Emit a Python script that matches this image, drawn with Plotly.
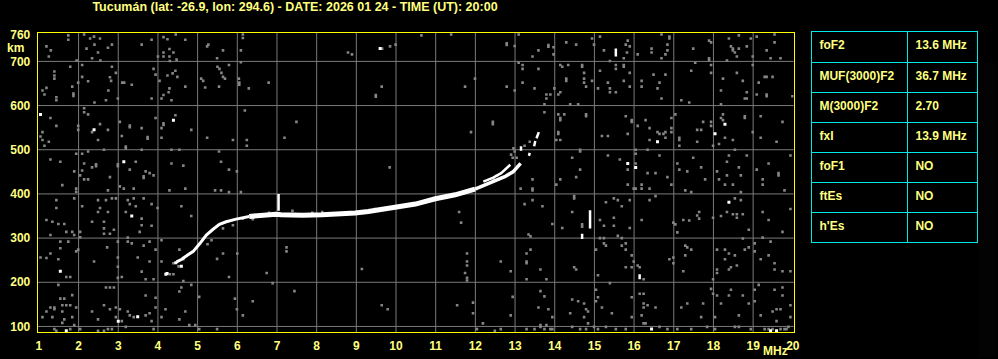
import plotly.graph_objects as go

TITLE = "Tucumán (lat: -26.9, lon: 294.6) - DATE: 2026 01 24 - TIME (UT): 20:00"

# axis ticks
x_ticks = list(range(1, 21))
y_ticks = [100, 200, 300, 400, 500, 600, 700, 760]
x_grid = list(range(2, 20))
y_grid = [100, 200, 300, 400, 500, 600, 700]

# parameter table
param_names = ["foF2", "MUF(3000)F2", "M(3000)F2", "fxI", "foF1", "ftEs", "h'Es"]
param_values = ["13.6\u00a0MHz", "36.7\u00a0MHz", "2.70", "13.9\u00a0MHz", "NO", "NO", "NO"]

# main echo trace (MHz, km)
rise_f = [4.47, 4.60, 4.74, 4.89, 5.05, 5.22, 5.39, 5.55, 5.72, 5.97, 6.30]
rise_h = [246, 252, 261, 270, 287, 307, 320, 331, 337, 343, 349]
flat_f = [6.30, 6.72, 6.97, 7.10, 7.30, 7.64, 8.14, 8.64, 8.97, 9.30, 9.64, 9.97,
          10.30, 10.49, 10.99, 11.49, 11.99]
flat_h = [349, 353, 354, 353, 352, 352, 353, 354, 357, 360, 365, 369,
          374, 377, 389, 398, 411]
top_f = [11.99, 12.49, 12.74, 12.95, 13.07, 13.14]
top_h = [411, 429, 439, 450, 461, 469]
branch_f = [12.20, 12.45, 12.65, 12.80, 12.88]
branch_h = [428, 437, 447, 458, 466]
# short vertical white pieces (None separates pieces)
piece_f = [7.04, 7.04, None, 13.15, 13.15, None, 13.35, 13.37, None, 13.48, 13.51, None,
           13.54, 13.60, None, 14.89, 14.89, None, 14.69, 14.69, None, 15.54, 15.54, None,
           16.14, 16.14]
piece_h = [362, 400, None, 498, 508, None, 486, 493, None, 508, 520, None,
           526, 540, None, 322, 363, None, 298, 310, None, 711, 729, None,
           207, 218]

# isolated white dots
white_dots = [(9.60, 729), (1.04, 580), (2.39, 545), (4.39, 567), (3.14, 473),
              (16.59, 518), (18.04, 536), (18.29, 558), (15.84, 469), (16.04, 460),
              (3.34, 350), (1.54, 225), (1.69, 90), (3.00, 112), (3.49, 122),
              (18.39, 381), (16.44, 94), (19.44, 90), (19.59, 90), (4.20, 218),
              (4.23, 220), (4.59, 236), (4.45, 244)]

# gray noise dots
gray_dots = [
    (1.74, 759), (1.74, 749), (2.14, 761), (2.29, 752), (2.39, 756), (2.54, 752), (2.40, 738),
    (2.20, 729), (2.74, 731), (2.84, 738), (2.49, 720), (2.34, 707), (2.55, 702), (1.19, 734),
    (1.30, 725), (1.25, 711), (1.95, 702), (3.59, 738), (3.84, 749), (4.14, 755), (4.24, 750),
    (4.45, 761), (4.69, 749), (4.29, 728), (4.14, 720), (4.39, 720), (4.14, 711), (4.29, 711),
    (4.30, 701), (4.00, 711), (4.47, 704), (5.27, 738), (5.24, 734), (5.64, 725), (5.49, 707),
    (6.14, 761), (6.14, 753), (6.09, 725), (8.79, 720), (8.89, 716), (9.85, 734), (9.99, 738),
    (9.65, 729),
    (1.79, 688), (2.09, 692), (1.39, 677), (1.39, 668), (1.39, 661), (2.09, 665), (2.24, 655),
    (2.84, 688), (2.94, 674), (2.79, 664), (2.82, 656), (1.99, 652), (1.84, 643), (1.19, 640),
    (1.09, 634), (1.14, 625), (1.44, 619), (1.44, 612), (1.87, 627), (1.87, 622), (2.75, 634),
    (2.69, 612), (2.99, 616), (2.40, 607), (3.10, 652), (3.15, 652), (3.34, 647), (3.89, 683),
    (3.94, 670), (4.04, 656), (4.24, 668), (4.37, 673), (4.44, 679), (4.49, 665), (4.29, 639),
    (4.27, 630), (4.14, 624), (4.09, 616), (4.34, 612), (4.69, 643), (3.84, 616), (5.09, 661),
    (5.14, 656), (5.19, 641), (5.50, 688), (5.55, 683), (5.60, 674), (5.64, 665), (5.69, 661),
    (5.79, 692), (5.54, 643), (6.04, 661), (6.05, 647), (6.05, 652), (6.29, 639), (6.79, 652),
    (6.09, 698), (9.64, 643), (9.49, 624), (9.49, 620),
    (1.29, 572), (1.44, 554), (1.09, 540), (1.04, 530), (1.09, 522), (1.14, 509), (1.25, 518),
    (1.99, 554), (1.99, 545), (2.14, 594), (2.14, 585), (2.24, 580), (2.54, 558), (2.34, 540),
    (2.49, 522), (2.74, 545), (3.04, 563), (3.29, 551), (3.29, 555), (3.59, 549), (3.74, 529),
    (3.74, 525), (3.09, 531), (3.19, 507), (3.19, 503), (3.94, 572), (4.14, 560), (4.14, 556),
    (4.09, 549), (4.09, 527), (4.44, 578), (4.84, 545), (5.24, 527), (5.89, 522), (6.19, 589),
    (6.24, 522), (6.24, 509), (7.19, 527), (7.49, 563),
    (1.29, 478), (1.54, 473), (1.89, 451), (1.94, 491), (2.09, 491), (2.09, 453), (2.04, 442),
    (2.14, 433), (2.24, 433), (2.24, 496), (2.14, 469), (2.34, 460), (2.44, 467), (2.44, 463),
    (2.64, 500), (2.79, 438), (2.99, 467), (2.99, 463), (3.29, 455), (3.44, 473), (3.64, 440),
    (3.64, 436), (3.69, 451), (3.79, 447), (3.89, 442), (3.59, 500), (4.34, 500), (4.54, 500),
    (4.34, 469), (4.64, 464), (5.54, 496), (5.59, 473), (5.79, 455), (5.99, 451), (9.84, 460),
    (10.64, 759), (11.39, 761), (12.79, 741), (12.79, 737), (12.99, 735), (13.09, 761),
    (13.44, 711), (13.59, 725), (13.84, 737), (13.84, 733), (13.97, 732), (13.97, 716),
    (14.29, 743), (14.54, 738), (14.94, 752), (14.99, 738), (15.14, 756), (15.24, 725),
    (15.79, 738), (15.84, 747), (15.89, 734), (15.82, 720), (15.74, 707), (16.09, 716),
    (16.44, 729), (16.44, 720), (16.69, 707), (16.69, 761), (16.79, 716), (16.84, 738),
    (16.89, 756), (16.89, 752), (16.84, 725), (17.49, 729), (17.89, 747), (17.94, 743),
    (17.89, 707), (17.89, 703), (18.39, 752), (18.44, 734), (18.49, 725), (18.54, 720),
    (18.49, 729), (18.64, 729), (18.64, 759), (18.59, 711), (18.84, 734), (18.94, 752),
    (19.09, 756), (19.34, 725), (19.44, 707), (19.54, 761), (19.54, 743), (19.69, 707),
    (18.99, 711), (18.34, 702),
    (11.74, 643), (11.99, 661), (12.79, 643), (12.99, 634), (13.09, 697), (13.19, 692),
    (13.19, 683), (13.19, 652), (13.49, 639), (13.59, 683), (13.79, 625), (13.79, 616),
    (13.89, 625), (13.74, 603), (13.99, 639), (14.09, 625), (14.14, 630), (14.14, 692),
    (14.19, 688), (14.34, 692), (14.29, 661), (14.29, 656), (14.39, 603), (14.59, 603),
    (14.69, 692), (14.69, 688), (14.74, 674), (14.74, 661), (14.74, 652), (14.79, 643),
    (14.94, 656), (15.09, 639), (15.14, 679), (15.34, 652), (15.39, 701), (15.39, 639),
    (15.39, 630), (15.54, 692), (15.54, 683), (15.54, 630), (15.74, 692), (15.74, 688),
    (15.74, 656), (15.89, 674), (15.89, 643), (16.19, 656), (16.19, 643), (16.49, 670),
    (16.64, 652), (16.69, 616), (16.79, 670), (16.59, 639), (17.19, 612), (17.39, 607),
    (17.44, 679), (17.54, 697), (17.94, 692), (17.94, 674), (18.19, 634), (18.19, 603),
    (18.24, 661), (18.59, 674), (18.74, 656), (18.84, 630), (18.79, 616), (18.84, 616),
    (19.09, 625), (19.14, 652), (19.29, 665), (19.34, 665), (19.49, 665), (19.34, 625),
    (19.34, 621), (19.99, 621), (18.99, 692),
    (12.44, 563), (12.44, 558), (11.89, 540), (13.74, 585), (14.09, 580), (14.24, 580),
    (14.14, 572), (14.14, 567), (14.09, 540), (14.09, 536), (14.14, 522), (14.04, 522),
    (14.79, 580), (14.79, 576), (15.19, 531), (15.34, 531), (15.79, 576), (15.84, 536),
    (15.94, 567), (15.94, 563), (16.09, 554), (16.29, 567), (16.39, 549), (16.39, 522),
    (16.59, 540), (16.64, 536), (16.74, 536), (16.79, 540), (16.79, 527), (16.94, 572),
    (16.94, 549), (16.94, 540), (17.04, 580), (17.14, 527), (17.14, 522), (17.14, 509),
    (17.59, 545), (17.69, 545), (17.59, 518), (17.74, 563), (17.94, 563), (17.94, 554),
    (17.99, 509), (18.14, 513), (18.19, 572), (18.24, 567), (18.24, 580), (18.29, 527),
    (18.49, 522), (18.79, 576), (18.79, 572), (18.99, 540), (19.19, 576), (19.19, 527),
    (19.59, 518), (19.74, 563),
    (14.44, 482), (14.64, 500), (14.64, 496), (14.64, 455), (14.54, 438), (14.14, 433),
    (13.44, 433), (15.34, 487), (15.64, 478), (15.84, 455), (16.04, 500), (16.04, 491),
    (16.04, 469), (16.34, 500), (16.64, 487), (16.34, 447), (16.54, 447), (16.84, 438),
    (17.09, 469), (17.14, 455), (17.34, 451), (17.49, 482), (17.69, 460), (17.79, 433),
    (18.09, 451), (18.14, 433), (18.34, 473), (18.34, 442), (18.39, 487), (18.54, 500),
    (18.64, 460), (18.69, 442), (18.84, 487), (19.09, 455), (19.24, 433), (19.39, 469),
    (19.64, 447), (19.64, 442), (19.94, 487),
    (12.96, 503), (12.99, 496), (13.04, 482), (12.94, 482), (12.90, 489), (12.54, 441),
    (12.46, 433), (13.37, 518), (13.24, 509),
    (1.59, 420), (1.94, 412), (1.94, 405), (2.74, 408), (3.04, 417), (3.14, 412), (3.39, 412),
    (4.29, 408), (4.69, 412), (5.44, 408), (5.59, 408), (5.79, 404), (6.09, 404),
    (1.44, 386), (1.44, 368), (1.89, 390), (2.09, 372), (2.49, 386), (2.69, 386), (2.84, 390),
    (2.94, 390), (2.54, 368), (2.49, 359), (2.74, 359), (3.24, 386), (3.29, 377), (3.39, 390),
    (3.64, 390), (3.44, 372), (3.84, 377), (3.19, 359), (1.19, 341), (1.34, 337), (1.49, 332),
    (1.64, 332), (1.29, 307), (1.69, 314), (1.84, 314), (1.89, 307), (2.04, 314), (2.04, 302),
    (2.34, 337), (2.64, 337), (2.64, 322), (2.64, 310), (2.79, 310), (2.89, 319), (3.24, 301),
    (3.54, 314), (3.59, 329), (3.84, 328), (3.59, 344), (3.99, 368), (4.59, 372), (4.84, 350),
    (1.54, 292), (1.54, 277), (1.49, 252), (1.29, 265), (1.19, 255), (1.04, 256), (1.74, 292),
    (1.94, 270), (1.99, 274), (1.69, 212), (1.79, 212), (1.49, 194), (2.39, 247), (2.72, 279),
    (2.99, 292), (2.99, 256), (2.99, 235), (2.99, 210), (3.24, 292), (3.34, 288), (3.64, 283),
    (3.79, 292), (3.49, 256), (3.79, 247), (3.59, 224), (3.69, 207), (3.89, 207), (3.94, 274),
    (4.09, 247), (4.09, 295), (4.54, 274), (4.64, 255), (4.64, 203), (4.84, 194), (3.09, 212),
    (5.49, 253), (5.64, 265), (5.79, 212), (6.00, 265), (6.74, 221), (7.24, 279), (7.24, 270),
    (7.44, 180), (9.14, 230), (9.64, 148), (9.79, 139), (5.04, 167), (5.94, 163), (5.99, 139),
    (6.14, 125), (6.39, 157), (6.89, 198),
    (4.30, 218), (4.39, 218), (4.64, 252), (4.39, 243), (4.52, 236), (5.25, 286), (5.35, 295),
    (5.64, 322), (5.89, 329), (6.14, 344), (6.39, 343), (6.80, 357), (7.39, 362), (7.89, 357),
    (8.14, 359), (9.47, 366), (9.97, 372),
    (1.54, 163), (1.64, 163), (1.84, 171), (1.29, 143), (1.39, 143), (1.19, 134), (1.09, 121),
    (1.34, 121), (1.39, 139), (1.59, 148), (1.59, 134), (1.64, 116), (1.69, 148), (1.79, 148),
    (1.84, 121), (1.94, 143), (1.59, 108), (1.39, 94), (1.79, 94), (1.89, 103), (2.04, 94),
    (2.34, 134), (2.49, 116), (2.64, 148), (2.69, 188), (2.79, 188), (2.89, 188), (2.79, 139),
    (2.94, 143), (2.94, 121), (3.04, 139), (3.09, 112), (3.19, 99), (3.24, 134), (3.29, 125),
    (3.39, 121), (3.69, 125), (3.79, 130), (3.84, 112), (3.69, 170), (3.94, 165), (3.94, 143),
    (3.89, 94), (4.09, 121), (4.19, 139), (4.54, 116), (4.69, 134), (4.79, 103), (4.94, 103),
    (5.04, 94), (5.49, 94), (4.59, 188), (4.54, 179), (2.84, 94), (2.74, 94), (2.49, 90),
    (2.64, 90), (1.44, 90),
    (13.14, 412), (13.44, 412), (13.44, 408), (14.04, 421), (15.84, 421), (15.99, 412),
    (16.04, 412), (16.19, 421), (16.19, 412), (16.39, 412), (16.94, 421), (17.29, 408),
    (17.44, 404), (18.29, 421), (18.49, 421), (18.69, 404), (19.24, 421), (19.79, 408),
    (13.24, 377), (13.44, 386), (13.69, 372), (14.49, 395), (14.49, 390), (15.29, 381),
    (15.49, 390), (15.59, 386), (15.69, 372), (15.89, 386), (16.39, 386), (16.54, 395),
    (11.59, 359), (11.64, 335), (13.94, 332), (14.19, 323), (14.44, 359), (14.69, 331),
    (14.69, 326), (15.14, 341), (15.24, 328), (15.49, 346), (15.49, 328), (15.89, 323),
    (16.19, 341), (13.34, 308), (13.39, 304), (15.14, 300), (15.24, 300), (15.59, 305),
    (15.69, 300), (16.99, 335), (17.04, 331), (17.09, 313), (17.24, 341), (17.39, 340),
    (17.64, 359), (17.59, 351), (17.64, 344), (17.99, 346), (18.19, 350), (18.34, 359),
    (18.54, 390), (18.49, 354), (18.59, 354), (18.74, 354), (18.59, 346), (18.69, 386),
    (18.89, 319), (19.24, 359), (19.39, 341), (19.94, 366), (19.74, 314), (19.24, 301),
    (11.79, 265), (11.79, 247), (11.79, 238), (11.74, 221), (11.79, 210), (11.79, 204),
    (12.64, 247), (12.89, 225), (13.29, 265), (13.29, 247), (13.29, 243), (13.39, 274),
    (13.64, 229), (13.79, 207), (13.29, 207), (14.49, 234), (14.54, 229), (15.04, 274),
    (15.24, 288), (15.29, 283), (15.09, 216), (15.39, 198), (15.69, 283), (15.79, 288),
    (15.79, 274), (15.94, 261), (15.99, 247), (15.79, 234), (15.94, 234), (16.09, 238),
    (16.14, 234), (16.24, 207), (16.89, 252), (16.99, 256), (16.99, 243), (17.24, 225),
    (17.29, 283), (17.34, 279), (17.44, 274), (17.29, 261), (18.09, 274), (18.09, 229),
    (18.09, 221), (18.29, 274), (18.29, 252), (18.39, 265), (18.39, 229), (18.44, 234),
    (18.59, 238), (18.54, 261), (18.79, 274), (18.89, 279), (19.04, 288), (19.04, 270),
    (19.39, 261), (19.44, 292), (19.54, 243), (19.54, 229), (19.74, 225), (19.94, 225),
    (19.19, 252), (18.74, 299), (17.99, 207),
    (11.54, 148), (11.94, 154), (11.94, 130), (12.19, 107), (12.89, 125), (12.94, 167),
    (13.64, 180), (13.59, 143), (13.84, 139), (13.94, 121), (13.74, 168), (13.64, 103),
    (13.79, 103), (13.89, 94), (14.39, 130), (14.44, 161), (14.59, 157), (14.74, 152),
    (14.79, 139), (14.84, 134), (14.74, 121), (14.84, 107), (15.04, 183), (15.09, 166),
    (15.19, 143), (15.04, 157), (15.44, 130), (15.94, 166), (15.94, 121), (16.19, 125),
    (16.24, 174), (16.24, 152), (16.24, 143), (16.34, 148), (16.24, 107), (16.29, 107),
    (16.54, 143), (16.14, 174), (17.19, 143), (17.34, 152), (17.69, 121), (17.74, 152),
    (17.94, 185), (17.99, 174), (18.09, 170), (18.04, 121), (18.19, 152), (18.39, 170),
    (18.44, 183), (18.64, 125), (18.74, 170), (18.89, 152), (19.04, 183), (19.04, 157),
    (19.14, 194), (19.19, 125), (19.49, 134), (19.59, 139), (19.69, 139), (19.74, 170),
    (19.74, 188), (19.54, 183), (19.59, 112), (19.94, 148), (19.94, 121),
    (19.39, 94), (19.49, 94), (19.69, 94), (19.79, 94), (19.89, 99), (19.84, 94),
    (12.04, 94), (12.49, 90), (12.64, 94), (13.29, 94), (13.49, 94), (13.64, 99), (13.74, 94),
    (13.94, 94), (14.44, 99), (14.64, 94), (14.79, 94), (14.99, 99), (15.09, 94), (15.29, 99),
    (15.54, 94), (15.79, 94), (16.64, 99), (16.84, 94), (17.09, 94), (17.44, 94), (17.84, 99),
    (18.04, 94), (18.54, 99), (18.64, 99), (18.94, 94), (19.29, 94),
]

YELLOW_TXT = "#ffff80"
YELLOW_LINE = "#ffff00"
CYAN = "#00e8e8"
GRID = "#7a7a7a"
NOISE = "#858585"
FONT = dict(family="Liberation Sans, Arial, sans-serif", size=12, color=YELLOW_TXT, weight="bold")
TITLE_FONT = dict(family="Liberation Sans, Arial, sans-serif", size=12.5, color=YELLOW_TXT, weight="bold")

fig = go.Figure()

fig.add_trace(go.Scatter(
    x=[p[0] for p in gray_dots], y=[p[1] for p in gray_dots], mode="markers",
    marker=dict(symbol="square", size=2.6, color=NOISE, line=dict(width=0)),
    hoverinfo="skip", showlegend=False))
fig.add_trace(go.Scatter(
    x=[p[0] for p in white_dots], y=[p[1] for p in white_dots], mode="markers",
    marker=dict(symbol="square", size=3, color="white", line=dict(width=0)),
    hoverinfo="skip", showlegend=False))
fig.add_trace(go.Scatter(x=rise_f, y=rise_h, mode="lines",
                         line=dict(color="white", width=3), hoverinfo="skip", showlegend=False))
fig.add_trace(go.Scatter(x=flat_f, y=flat_h, mode="lines",
                         line=dict(color="white", width=5), hoverinfo="skip", showlegend=False))
fig.add_trace(go.Scatter(x=top_f, y=top_h, mode="lines",
                         line=dict(color="white", width=3.5), hoverinfo="skip", showlegend=False))
fig.add_trace(go.Scatter(x=branch_f, y=branch_h, mode="lines",
                         line=dict(color="white", width=2.5), hoverinfo="skip", showlegend=False))
fig.add_trace(go.Scatter(x=piece_f, y=piece_h, mode="lines", connectgaps=False,
                         line=dict(color="white", width=2.5), hoverinfo="skip", showlegend=False))

# parameter table
cell_font = dict(family="Liberation Sans, Arial, sans-serif", size=12, color=YELLOW_TXT, weight="bold")
fig.add_trace(go.Table(
    domain=dict(x=[816 / 998, 984 / 998], y=[0.0, 1 - 28 / 359]),
    columnwidth=[96, 70],
    header=dict(values=[param_names[0], param_values[0]], height=31, align="left",
                fill_color="black", line=dict(color=CYAN, width=1), font=cell_font),
    cells=dict(values=[param_names[1:], param_values[1:]], height=30, align="left",
               fill_color="black", line=dict(color=CYAN, width=1), font=cell_font),
))

shapes = []
for g in x_grid:
    shapes.append(dict(type="line", xref="x", yref="paper", x0=g, x1=g,
                       y0=1 - 333 / 359, y1=1 - 29 / 359, line=dict(color=GRID, width=1), layer="below"))
for g in y_grid:
    shapes.append(dict(type="line", xref="paper", yref="y", x0=36 / 998, x1=798 / 998,
                       y0=g, y1=g, line=dict(color=GRID, width=1), layer="below"))

fig.update_layout(
    width=998, height=359,
    margin=dict(l=0, r=0, t=0, b=0),
    paper_bgcolor="black", plot_bgcolor="black",
    shapes=shapes,
    title=dict(text=TITLE, x=295 / 998, xanchor="center", y=1 - 7 / 359, yanchor="middle",
               font=TITLE_FONT),
    xaxis=dict(domain=[36 / 998, 798 / 998], range=[0.97, 20.02], tickvals=x_ticks,
               ticktext=[str(v) for v in x_ticks], showgrid=False, zeroline=False,
               showline=True, mirror=True, linecolor=YELLOW_LINE, linewidth=1,
               ticks="", tickfont=FONT, ticklabelstandoff=2),
    yaxis=dict(domain=[1 - 333 / 359, 1 - 29 / 359], range=[86.6, 765.2], tickvals=y_ticks,
               ticktext=[str(v) for v in y_ticks], showgrid=False, zeroline=False,
               showline=True, mirror=True, linecolor=YELLOW_LINE, linewidth=1,
               ticks="", tickfont=FONT, ticklabelstandoff=4),
    annotations=[
        dict(text="km", xref="paper", yref="paper", x=14 / 998, y=1 - 45 / 359,
             xanchor="center", yanchor="middle", showarrow=False, font=FONT),
        dict(text="MHz", xref="paper", yref="paper", x=780 / 998, y=1 - 352 / 359,
             xanchor="center", yanchor="middle", showarrow=False, font=FONT),
    ],
    hovermode=False,
)

fig.write_html("out.html", config={"displayModeBar": False})
